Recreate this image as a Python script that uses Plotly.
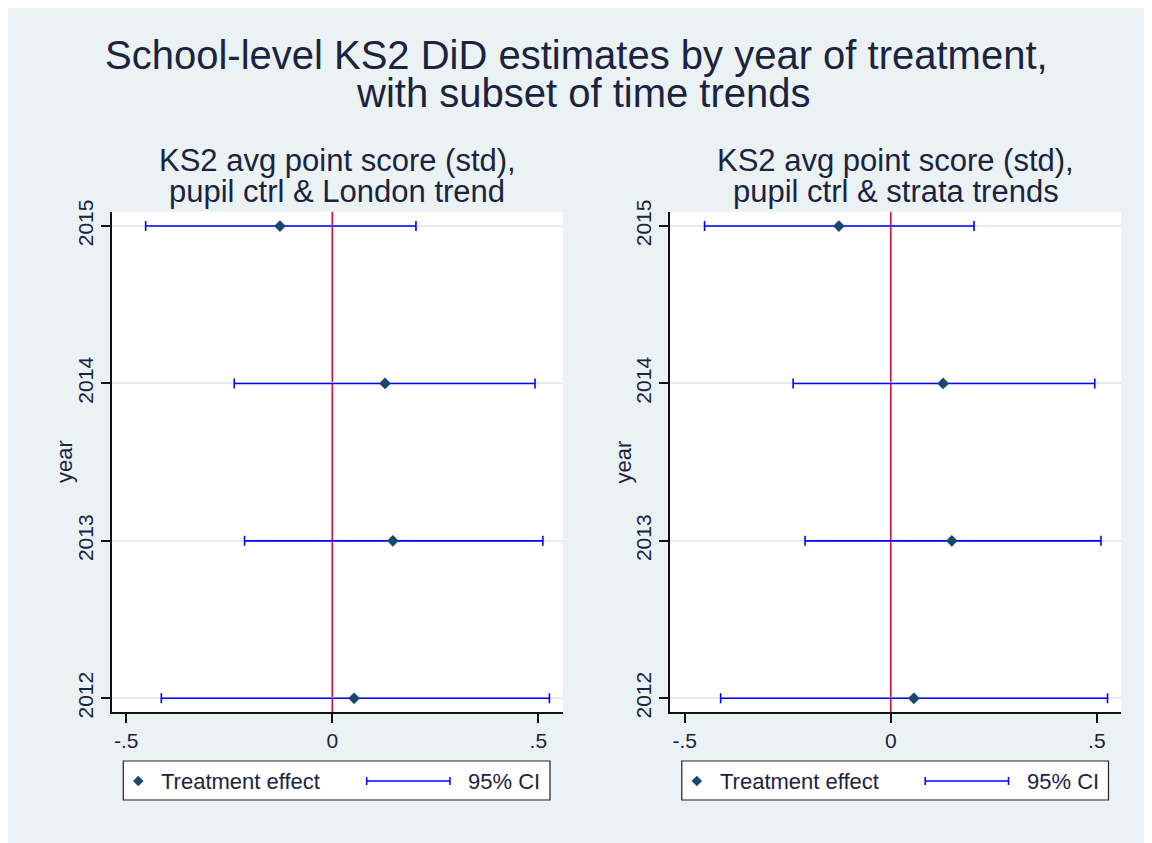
import plotly.graph_objects as go

# ---- data ----
years = [2015, 2014, 2013, 2012]
year_labels = ["2015", "2014", "2013", "2012"]

left_est = [-0.127, 0.128, 0.147, 0.053]
left_lo = [-0.453, -0.238, -0.213, -0.415]
left_hi = [0.203, 0.492, 0.511, 0.527]

right_est = [-0.126, 0.127, 0.148, 0.056]
right_lo = [-0.452, -0.237, -0.208, -0.413]
right_hi = [0.202, 0.495, 0.510, 0.526]

x_tickvals = [-0.5, 0, 0.5]
x_ticktext = ["-.5", "0", ".5"]

main_title = ["School-level KS2 DiD estimates by year of treatment,", "with subset of time trends"]
left_title = ["KS2 avg point score (std),", "pupil ctrl & London trend"]
right_title = ["KS2 avg point score (std),", "pupil ctrl & strata trends"]
legend_labels = ["Treatment effect", "95% CI"]
y_title = "year"

# ---- style ----
W, H = 1152, 843
OFF = 8  # page body margin
BG = "#eaf2f3"
NAVY = "#1a476f"
BLUE = "#0000ff"
RED = "#d2143a"
TXT = "#1c2340"
FONT = "Liberation Sans, Arial, sans-serif"


def X(px):
    return (px - OFF) / W


def Y(py):
    return 1 - (py - OFF) / H


fig = go.Figure()

panels = [
    (left_est, left_lo, left_hi, "x", "y", left_title, 0.0),
    (right_est, right_lo, right_hi, "x2", "y2", right_title, 558.5),
]

for est, lo, hi, xa, ya, title, dx in panels:
    plus = [h - e for h, e in zip(hi, est)]
    minus = [e - l for e, l in zip(est, lo)]
    fig.add_trace(go.Scatter(
        x=est, y=years, xaxis=xa, yaxis=ya, mode="markers",
        marker=dict(symbol="diamond", size=9, color=NAVY),
        error_x=dict(type="data", symmetric=False, array=plus, arrayminus=minus,
                     color=BLUE, thickness=1.6, width=5),
        showlegend=False, hoverinfo="skip",
    ))

shapes = []
annotations = []

# main title
annotations.append(dict(text=main_title[0], x=X(576), y=Y(55), xref="paper", yref="paper",
                        xanchor="center", yanchor="middle", showarrow=False,
                        font=dict(size=40, color=TXT, family=FONT)))
annotations.append(dict(text=main_title[1], x=X(583), y=Y(93), xref="paper", yref="paper",
                        xanchor="center", yanchor="middle", showarrow=False,
                        font=dict(size=40, color=TXT, family=FONT)))

for est, lo, hi, xa, ya, title, dx in panels:
    cx = (111.7 + 562.7) / 2 + dx
    annotations.append(dict(text=title[0], x=X(cx), y=Y(161), xref="paper", yref="paper",
                            xanchor="center", yanchor="middle", showarrow=False,
                            font=dict(size=31, color=TXT, family=FONT)))
    annotations.append(dict(text=title[1], x=X(cx), y=Y(192), xref="paper", yref="paper",
                            xanchor="center", yanchor="middle", showarrow=False,
                            font=dict(size=31, color=TXT, family=FONT)))
    # y title
    annotations.append(dict(text=y_title, x=X(64 + dx), y=Y(462), xref="paper", yref="paper",
                            xanchor="center", yanchor="middle", showarrow=False, textangle=-90,
                            font=dict(size=22, color=TXT, family=FONT)))
    # red reference line at 0
    shapes.append(dict(type="line", xref=xa, yref=ya + " domain", x0=0, x1=0, y0=0, y1=1,
                       line=dict(color=RED, width=1.6), layer="below"))
    # legend box
    shapes.append(dict(type="rect", xref="paper", yref="paper",
                       x0=X(123.3 + dx), x1=X(550 + dx), y0=Y(800), y1=Y(761),
                       fillcolor="white", line=dict(color="#222222", width=1.2)))
    # diamond symbol
    mx, my, r = 138.3 + dx, 781, 5
    path = "M {},{} L {},{} L {},{} L {},{} Z".format(
        X(mx), Y(my - r), X(mx + r), Y(my), X(mx), Y(my + r), X(mx - r), Y(my))
    shapes.append(dict(type="path", xref="paper", yref="paper", path=path,
                       fillcolor=NAVY, line=dict(color=NAVY, width=0.5)))
    annotations.append(dict(text=legend_labels[0], x=X(159 + dx), y=Y(781), xref="paper", yref="paper",
                            xanchor="left", yanchor="middle", showarrow=False,
                            font=dict(size=22, color=TXT, family=FONT)))
    # CI symbol
    shapes.append(dict(type="line", xref="paper", yref="paper", x0=X(366.7 + dx), x1=X(450 + dx),
                       y0=Y(781), y1=Y(781), line=dict(color=BLUE, width=1.5)))
    for cxp in (366.7 + dx, 450 + dx):
        shapes.append(dict(type="line", xref="paper", yref="paper", x0=X(cxp), x1=X(cxp),
                           y0=Y(785), y1=Y(777), line=dict(color=BLUE, width=1.5)))
    annotations.append(dict(text=legend_labels[1], x=X(466 + dx), y=Y(781), xref="paper", yref="paper",
                            xanchor="left", yanchor="middle", showarrow=False,
                            font=dict(size=22, color=TXT, family=FONT)))

xaxis_common = dict(range=[-0.5354, 0.5592], tickvals=x_tickvals, ticktext=x_ticktext,
                    showgrid=False, zeroline=False, showline=True, linecolor="#111111", linewidth=1.6,
                    ticks="outside", ticklen=9, tickwidth=1.6, tickcolor="#111111",
                    tickfont=dict(size=21, color=TXT, family=FONT), automargin=False,
                    fixedrange=True)
yaxis_common = dict(range=[2011.911, 2015.091], tickvals=years, ticktext=year_labels, tickangle=-90,
                    showgrid=True, gridcolor="#e3ecef", gridwidth=1.5, zeroline=False,
                    showline=True, linecolor="#111111", linewidth=1.6,
                    ticks="outside", ticklen=9, tickwidth=1.6, tickcolor="#111111",
                    tickfont=dict(size=21, color=TXT, family=FONT), automargin=False, fixedrange=True)

ydom = [Y(712.3), Y(211.7)]
fig.update_layout(
    width=W, height=H,
    margin=dict(l=0, r=0, t=0, b=0, pad=0),
    paper_bgcolor=BG, plot_bgcolor="white",
    showlegend=False,
    xaxis=dict(xaxis_common, domain=[X(111.7), X(562.7)], anchor="y"),
    yaxis=dict(yaxis_common, domain=ydom, anchor="x"),
    xaxis2=dict(xaxis_common, domain=[X(670.2), X(1121.2)], anchor="y2"),
    yaxis2=dict(yaxis_common, domain=ydom, anchor="x2"),
    shapes=shapes, annotations=annotations,
    font=dict(family=FONT, color=TXT),
)

fig.write_html("out.html")
